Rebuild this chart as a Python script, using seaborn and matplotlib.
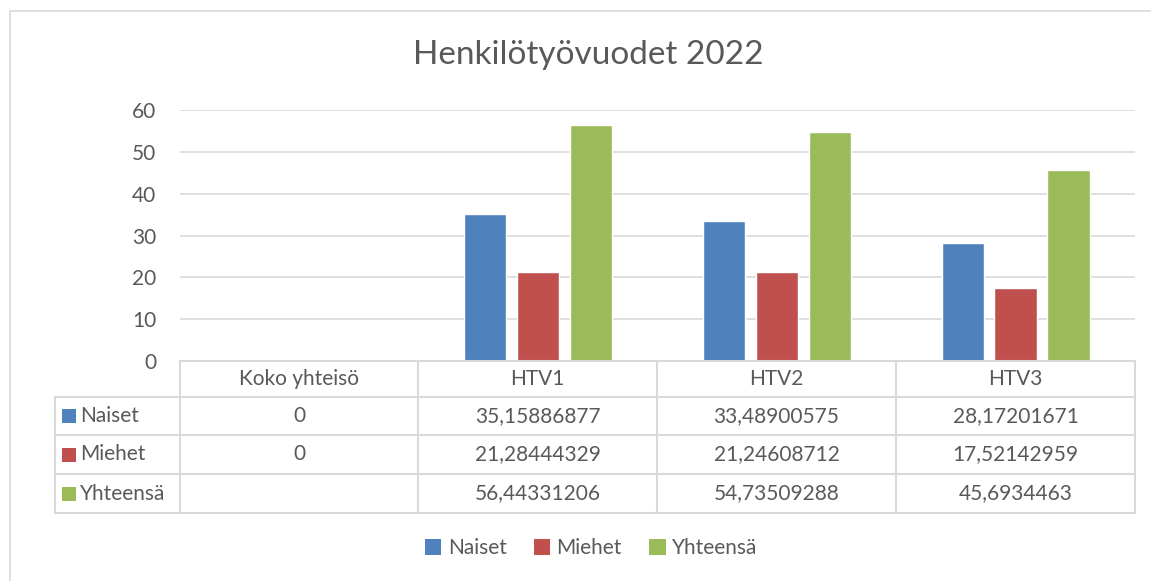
import matplotlib
matplotlib.use("Agg")
import matplotlib.pyplot as plt
from matplotlib.lines import Line2D
from matplotlib.patches import Patch, Rectangle
import numpy as np
import pandas as pd
import seaborn as sns

categories = ["Koko yhteisö", "HTV1", "HTV2", "HTV3"]
series_names = ["Naiset", "Miehet", "Yhteensä"]
naiset = [0, 35.15886877, 33.48900575, 28.17201671]
miehet = [0, 21.28444329, 21.24608712, 17.52142959]
yhteensa = [np.nan, 56.44331206, 54.73509288, 45.6934463]
colors = ["#4F81BD", "#C0504D", "#9BBB59"]
title = "Henkilötyövuodet 2022"

W, H = 1151, 581
TXT = "#595959"
GRID = "#D9D9D9"
FS = 15

sns.set_theme(style="white")
plt.rcParams["font.family"] = ["Lato", "DejaVu Sans"]

values = [naiset, miehet, yhteensa]
df = pd.DataFrame({
    "kategoria": np.tile(categories, 3),
    "sarja": np.repeat(series_names, 4),
    "arvo": np.concatenate(values),
})

fig = plt.figure(figsize=(W / 100, H / 100), dpi=100)


def fx(x):
    return x / W


def fy(y):
    return (H - y) / H


# outer chart border
fig.add_artist(Rectangle((fx(10), fy(1000)), fx(1300) - fx(10), fy(11) - fy(1000),
                         transform=fig.transFigure, fill=False, edgecolor=GRID, lw=1.2))

left, right, top, bottom = 180, 1135, 110, 361
ax = fig.add_axes([fx(left), fy(bottom), fx(right) - fx(left), fy(top) - fy(bottom)])
sns.barplot(data=df, x="kategoria", y="arvo", hue="sarja", palette=colors, saturation=1,
            width=0.665, gap=0.2, errorbar=None, legend=False, ax=ax,
            order=categories, hue_order=series_names)
ax.set_ylim(0, 60)
ax.set_xlim(-0.5, 3.5)
ax.set_yticks(range(0, 61, 10))
ax.yaxis.grid(True, color=GRID, lw=1.2)
ax.set_axisbelow(True)
ax.tick_params(axis="y", length=0, pad=17, labelsize=FS, labelcolor=TXT)
ax.set_xticks([])
ax.set_xlabel("")
ax.set_ylabel("")
for s in ["left", "right", "top", "bottom"]:
    ax.spines[s].set_visible(False)

fig.text(fx(588), fy(55), title, ha="center", va="center", fontsize=24, color=TXT)

# data table
col_x = [55, 180, 418, 657, 896, 1135]
row_y = [361, 397, 435, 474, 513]


def hline(x0, x1, y):
    fig.add_artist(Line2D([fx(x0), fx(x1)], [fy(y), fy(y)], transform=fig.transFigure,
                          color=GRID, lw=1.5))


def vline(x, y0, y1):
    fig.add_artist(Line2D([fx(x), fx(x)], [fy(y0), fy(y1)], transform=fig.transFigure,
                          color=GRID, lw=1.5))


hline(col_x[1], col_x[-1], row_y[0])
for y in row_y[1:]:
    hline(col_x[0], col_x[-1], y)
vline(col_x[0], row_y[1], row_y[-1])
for x in col_x[1:]:
    vline(x, row_y[0], row_y[-1])


def fmt(v):
    if np.isnan(v):
        return ""
    return f"{v:.10g}".replace(".", ",")


for i, cat in enumerate(categories):
    cx = (col_x[i + 1] + col_x[i + 2]) / 2
    fig.text(fx(cx), fy((row_y[0] + row_y[1]) / 2), cat, ha="center", va="center",
             fontsize=FS, color=TXT)

for r, (name, vals, c) in enumerate(zip(series_names, values, colors)):
    cy = (row_y[r + 1] + row_y[r + 2]) / 2
    fig.add_artist(Rectangle((fx(62), fy(cy + 7)), fx(14), fy(cy - 7) - fy(cy + 7),
                             transform=fig.transFigure, color=c, lw=0))
    fig.text(fx(80), fy(cy), name, ha="left", va="center", fontsize=FS, color=TXT)
    for i, v in enumerate(vals):
        cx = (col_x[i + 1] + col_x[i + 2]) / 2
        fig.text(fx(cx), fy(cy), fmt(v), ha="center", va="center", fontsize=FS, color=TXT)

handles = [Patch(facecolor=c, edgecolor="none", label=n) for n, c in zip(series_names, colors)]
fig.legend(handles=handles, loc="center", bbox_to_anchor=(fx(591), fy(548)), ncol=3,
           frameon=False, fontsize=FS, labelcolor=TXT, handlelength=0.8, handleheight=0.8,
           handletextpad=0.3, columnspacing=1.3)

fig.savefig("out.png", dpi=100)
